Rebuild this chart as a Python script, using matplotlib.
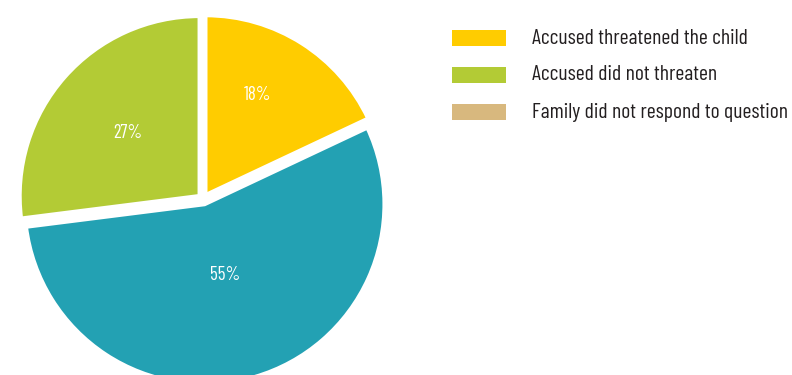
import matplotlib
matplotlib.use("Agg")
import matplotlib.pyplot as plt
from matplotlib.patches import Rectangle
import numpy as np

# Slice data, drawn clockwise from 12 o'clock
slice_labels = ["Accused threatened the child", "No answer", "Accused did not threaten"]
slice_values = [18, 55, 27]
slice_colors = ["#FFCC00", "#23A1B3", "#B3CB35"]
label_radius = [0.63, 0.41, 0.53]

# Legend entries
legend_labels = ["Accused threatened the child", "Accused did not threaten",
                 "Family did not respond to question"]
legend_colors = ["#FFCC00", "#B3CB35", "#D8B87E"]

FONT = ["Barlow Condensed", "DejaVu Sans"]
TEXT_WEIGHT = "normal"

W, H = 792, 375
fig = plt.figure(figsize=(W / 100, H / 100), dpi=100)
fig.patch.set_facecolor("white")

# Pie axes: centre at (203, 199) px from top-left, radius 180 px
cx, cy, R = 203, 199, 180
half = 200
ax = fig.add_axes([(cx - half) / W, (H - cy - half) / H, 2 * half / W, 2 * half / H])

wedges, _, autotexts = ax.pie(
    slice_values, colors=slice_colors, startangle=90, counterclock=False,
    explode=[0.025, 0.03, 0.025], radius=1.0,
    autopct=lambda p: f"{p:.0f}%", pctdistance=0.6,
    wedgeprops=dict(edgecolor="white", linewidth=3),
    textprops=dict(color="white", fontsize=13.5, family=FONT, weight=TEXT_WEIGHT),
)
ax.set_xlim(-half / R, half / R)
ax.set_ylim(-half / R, half / R)
ax.set_aspect("equal")
ax.axis("off")

# Place percentage labels along each wedge's mid-angle (slightly rotated for the small wedge)
angle_shift = [5, 0, 0]
for w, t, r, da in zip(wedges, autotexts, label_radius, angle_shift):
    mid = np.deg2rad((w.theta1 + w.theta2) / 2 + da)
    cxw, cyw = w.center
    t.set_position((cxw + r * np.cos(mid), cyw + r * np.sin(mid)))

# Legend drawn in figure pixel coordinates
row_y = [38, 75, 112]
for y, lab, col in zip(row_y, legend_labels, legend_colors):
    fig.patches.append(Rectangle((452 / W, (H - y - 8) / H), 54 / W, 16 / H,
                                 transform=fig.transFigure, facecolor=col,
                                 edgecolor="none"))
    fig.text(532 / W, (H - y) / H, lab, fontsize=15.6, family=FONT,
             weight=TEXT_WEIGHT, color="#231F20", va="center", ha="left")

fig.savefig("out.png", dpi=100, facecolor="white")
